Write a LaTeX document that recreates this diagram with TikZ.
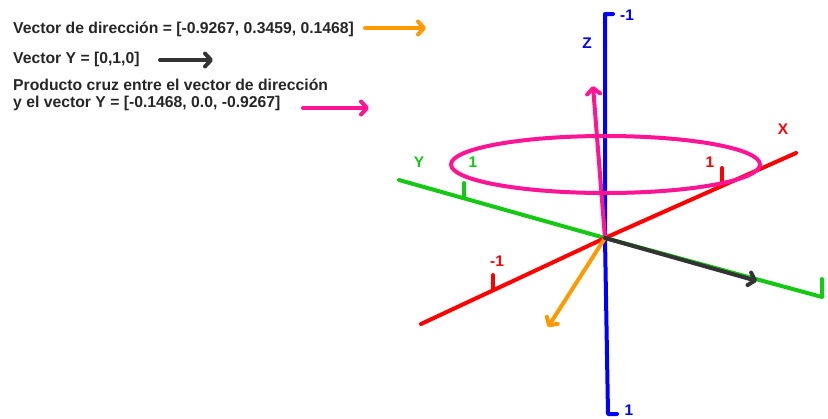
\documentclass[tikz,border=0pt]{standalone}
\usepackage{fontspec}
\setmainfont{Liberation Sans}
\usetikzlibrary{arrows.meta}
\definecolor{cOrange}{RGB}{255,153,0}
\definecolor{cMag}{RGB}{255,20,147}
\definecolor{cGreen}{RGB}{20,200,20}
\definecolor{cRed}{RGB}{255,0,0}
\definecolor{cBlue}{RGB}{0,0,255}
\definecolor{cDark}{RGB}{51,51,51}
\begin{document}
\begin{tikzpicture}[x=1bp,y=-1bp,
  axisline/.style={line width=4bp, line cap=round, line join=round},
  vec/.style={line width=4bp, line cap=round, -{Straight Barb[round,length=6bp,width=13bp]}},
  lbl/.style={font=\bfseries\fontsize{15.5}{17}\selectfont, inner sep=0pt},
  legend/.style={font=\bfseries\fontsize{15.8}{17}\selectfont, inner sep=0pt, anchor=base west, align=left, text=black!85}]
\useasboundingbox (0,0) rectangle (828,418);
% coordinates
\coordinate (O) at (605,238);
\coordinate (zTop) at (605,14);
\coordinate (zTopHook) at (613,14);
\coordinate (zBot) at (608,414);
\coordinate (zBotHook) at (617,414);
\coordinate (yLeft) at (399,180);
\coordinate (yRight) at (822,297);
\coordinate (yRightHook) at (822,279);
\coordinate (xRight) at (796,153);
\coordinate (xLeft) at (421,324);
\coordinate (yTickBase) at (464,198);
\coordinate (yTickTop) at (464,183);
\coordinate (xTickBase) at (722,182);
\coordinate (xTickTop) at (722,168);
\coordinate (xmTickBase) at (493,289);
\coordinate (xmTickTop) at (493,275);
\coordinate (vOrange) at (548,327);
\coordinate (vDark) at (757,281);
\coordinate (vMag) at (593,86);
% axes
\draw[axisline, cGreen] (yLeft) -- (O) -- (yRight) -- (yRightHook);
\draw[axisline, cGreen] (yTickBase) -- (yTickTop);
\draw[axisline, cRed] (xLeft) -- (O) -- (xRight);
\draw[axisline, cRed] (xTickBase) -- (xTickTop);
\draw[axisline, cRed] (xmTickBase) -- (xmTickTop);
\draw[axisline, cBlue] (zTopHook) -- (zTop) -- (O) -- (zBot) -- (zBotHook);
% axis labels
\node[lbl, text=cGreen] (lY) at (419,162) {Y};
\node[lbl, text=cGreen] (lY1) at (473,162) {1};
\node[lbl, text=cGreen] (lY1b) at (832,260) {1};
\node[lbl, text=cRed] (lX) at (783,129) {X};
\node[lbl, text=cRed] (lX1) at (710,162) {1};
\node[lbl, text=cRed] (lXm1) at (497,261) {-1};
\node[lbl, text=cBlue] (lZ) at (587,43) {Z};
\node[lbl, text=cBlue] (lZm1) at (627,15) {-1};
\node[lbl, text=cBlue] (lZ1) at (629,410) {1};
% ellipse
\draw[line width=4bp, cMag] (605.5,164.5) ellipse [x radius=154.5, y radius=28.5];
% vectors
\draw[vec, cMag] (O) -- (vMag);
\draw[vec, cOrange] (O) -- (vOrange);
\draw[vec, cDark] (O) -- (vDark);
% legend
\node[legend] (t1) at (13,33) {Vector de dirección = [-0.9267, 0.3459, 0.1468]};
\node[legend] (t2) at (13,63) {Vector Y = [0,1,0]};
\node[legend] (t3) at (13,107) {Producto cruz entre el vector de dirección\\y el vector Y = [-0.1468, 0.0, -0.9267]};
\coordinate (a1s) at (365,28);
\coordinate (a1e) at (426,28);
\coordinate (a2s) at (160,60);
\coordinate (a2e) at (213,60);
\coordinate (a3s) at (303,108);
\coordinate (a3e) at (369,108);
\draw[vec, cOrange] (a1s) -- (a1e);
\draw[vec, cDark] (a2s) -- (a2e);
\draw[vec, cMag] (a3s) -- (a3e);
\end{tikzpicture}
\end{document}
